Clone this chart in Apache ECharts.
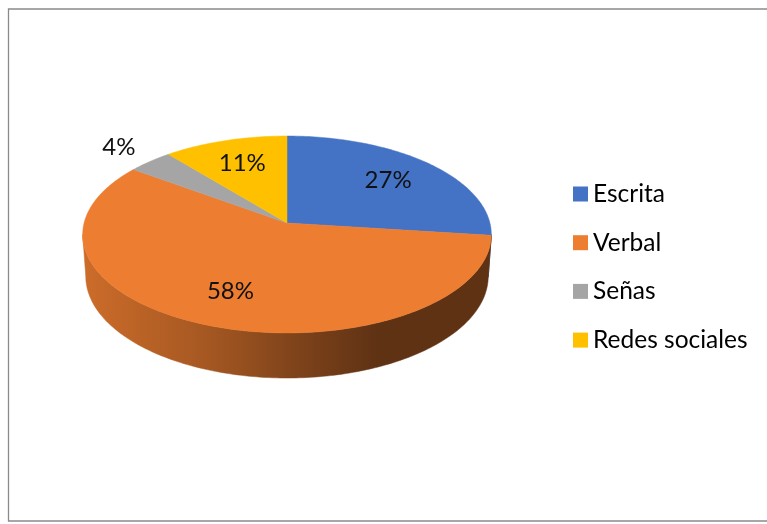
<!DOCTYPE html>
<html><head><meta charset="utf-8">
<script src="https://cdn.jsdelivr.net/npm/echarts@6/dist/echarts.min.js"></script>
<style>html,body{margin:0;padding:0;background:#fff}#c{width:767px;height:524px}</style>
</head><body><div id="c"></div>
<script>
const categories = ['Escrita', 'Verbal', 'Señas', 'Redes sociales'];
const values = [27, 58, 4, 11];
const colors = ['#4472C4', '#ED7D31', '#A5A5A5', '#FFC000'];

// 3D perspective pie parameters
const P = { cx: 287, cy: 223, f: 1528, D: 7.53, s: 0.4786, c: 0.878, t: 0.2366 };
const total = values.reduce((a, b) => a + b, 0);

function proj(theta, r, Y) {
  const X = r * Math.sin(theta), Z = r * Math.cos(theta);
  const sy = Y * P.c + Z * P.s;
  const depth = P.D + Z * P.c - Y * P.s;
  return [P.cx + X * P.f / depth, P.cy - sy * P.f / depth];
}
function shade(hex, k) {
  const n = parseInt(hex.slice(1), 16);
  const r = Math.round(((n >> 16) & 255) * k), g = Math.round(((n >> 8) & 255) * k), b = Math.round((n & 255) * k);
  return 'rgb(' + r + ',' + g + ',' + b + ')';
}
const silA = Math.acos(-P.c / P.D); // silhouette angle (front visible wall range)
const silB = 2 * Math.PI - silA;

function makeRender(i) {
  return function (params, api) {
    let before = 0;
    for (let k = 0; k < i; k++) before += values[k];
    const v = api.value(0);
    const a0 = before / total * 2 * Math.PI;
    const a1 = (before + v) / total * 2 * Math.PI;
    const col = colors[i];
    const children = [];
    const steps = Math.max(2, Math.ceil((a1 - a0) / (Math.PI / 180)));
    // wall
    const w0 = Math.max(a0, silA), w1 = Math.min(a1, silB);
    if (w1 > w0) {
      const ws = Math.max(2, Math.ceil((w1 - w0) / (Math.PI / 180)));
      const top = [], bot = [];
      for (let k = 0; k <= ws; k++) {
        const th = w0 + (w1 - w0) * k / ws;
        top.push(proj(th, 1, 0));
        bot.push(proj(th, 1, -P.t));
      }
      const pts = top.concat(bot.reverse());
      const xl = proj(silB, 1, 0)[0], xr = proj(silA, 1, 0)[0];
      const grad = {
        type: 'linear', global: true, x: xl, y: 0, x2: xr, y2: 0,
        colorStops: [
          { offset: 0, color: shade(col, 0.86) },
          { offset: 0.3, color: shade(col, 0.7) },
          { offset: 0.5, color: shade(col, 0.55) },
          { offset: 0.72, color: shade(col, 0.4) },
          { offset: 1, color: shade(col, 0.4) }
        ]
      };
      children.push({ type: 'polygon', z2: 0, shape: { points: pts }, style: { fill: grad, stroke: grad, lineWidth: 0.5 } });
    }
    // top face
    const face = [proj(0, 0, 0)];
    for (let k = 0; k <= steps; k++) face.push(proj(a0 + (a1 - a0) * k / steps, 1, 0));
    children.push({ type: 'polygon', z2: 10, shape: { points: face }, style: { fill: col, stroke: col, lineWidth: 0.5 } });
    // label
    const pct = Math.round(v / total * 100);
    const mid = (a0 + a1) / 2;
    const lp = proj(mid, pct < 6 ? 1.25 : 0.7, 0);
    children.push({
      type: 'text', z2: 20,
      style: { text: pct + '%', x: lp[0], y: lp[1], fill: '#111', fontFamily: 'Lato', fontSize: 24, align: 'center', verticalAlign: 'middle' }
    });
    return { type: 'group', children: children };
  };
}

const chart = echarts.init(document.getElementById('c'));
chart.setOption({
  animation: false,
  backgroundColor: '#fff',
  graphic: [{ type: 'rect', silent: true, shape: { x: 8.5, y: 9, width: 800, height: 512 }, style: { fill: 'none', stroke: '#8a8a8a', lineWidth: 1.3 } }],
  legend: {
    orient: 'vertical', left: 568, top: 176, icon: 'rect', itemWidth: 15, itemHeight: 15, itemGap: 22.7,
    selectedMode: false, data: categories,
    textStyle: { fontFamily: 'Lato', fontSize: 24.5, color: '#000', lineHeight: 26 }
  },
  series: categories.map((name, i) => ({
    type: 'custom', name: name, coordinateSystem: 'none', renderItem: makeRender(i),
    itemStyle: { color: colors[i] }, data: [[values[i]]]
  }))
});
</script></body></html>
